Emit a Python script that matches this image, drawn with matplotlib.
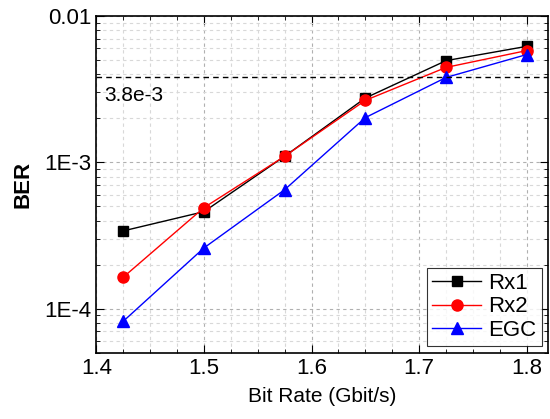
import matplotlib
matplotlib.use('Agg')
from matplotlib import pyplot as plt
from matplotlib.ticker import FixedLocator, LogLocator, NullFormatter, FixedFormatter

plt.rcParams['font.family'] = ['Liberation Sans', 'DejaVu Sans']

bit_rate = [1.425, 1.5, 1.575, 1.65, 1.725, 1.8]
ber_rx1 = [3.4e-4, 4.6e-4, 1.1e-3, 2.75e-3, 4.95e-3, 6.2e-3]
ber_rx2 = [1.64e-4, 4.9e-4, 1.1e-3, 2.65e-3, 4.45e-3, 5.8e-3]
ber_egc = [8.2e-5, 2.6e-4, 6.5e-4, 2.02e-3, 3.8e-3, 5.45e-3]
fec_limit = 3.8e-3

fig = plt.figure(figsize=(5.5, 4.19), dpi=100)
ax = fig.add_axes([0.175, 0.158, 0.822, 0.804])

ax.plot(bit_rate, ber_rx1, '-s', color='black', markersize=7, lw=1, label='Rx1')
ax.plot(bit_rate, ber_rx2, '-o', color='red', markersize=8, lw=1, label='Rx2')
ax.plot(bit_rate, ber_egc, '-^', color='blue', markersize=8, lw=1, label='EGC')
ax.axhline(fec_limit, color='black', ls=(0, (4, 3)), lw=1)
ax.text(1.407, fec_limit * 0.88, '3.8e-3', fontsize=15, va='top', ha='left')

ax.set_yscale('log')
ax.set_xlim(1.4, 1.82)
ax.set_ylim(5e-5, 0.01)

ax.xaxis.set_major_locator(FixedLocator([1.4, 1.5, 1.6, 1.7, 1.8]))
ax.xaxis.set_minor_locator(FixedLocator([1.425, 1.45, 1.475, 1.525, 1.55, 1.575,
                                         1.625, 1.65, 1.675, 1.725, 1.75, 1.775, 1.8]))
ax.yaxis.set_major_locator(FixedLocator([1e-4, 1e-3, 1e-2]))
ax.yaxis.set_major_formatter(FixedFormatter(['1E-4', '1E-3', '0.01']))
ax.yaxis.set_minor_locator(LogLocator(base=10, subs=range(2, 10)))
ax.yaxis.set_minor_formatter(NullFormatter())

ax.grid(True, which='major', color='#b0b0b0', ls=(0, (3, 3)), lw=0.8)
ax.grid(True, which='minor', color='#d8d8d8', ls=(0, (3, 3)), lw=0.8)
ax.tick_params(which='both', direction='in', top=True, right=True, labelsize=16)
ax.tick_params(which='major', length=6)
ax.tick_params(which='minor', length=3)
for s in ax.spines.values():
    s.set_linewidth(1.2)

ax.set_xlabel('Bit Rate (Gbit/s)', fontsize=15, labelpad=6)
ax.set_ylabel('BER', fontsize=16, fontweight='bold', labelpad=8)

leg = ax.legend(loc='lower right', fontsize=16, fancybox=False, edgecolor='black',
                borderpad=0.25, handlelength=2.2, handletextpad=0.3,
                labelspacing=0.1, borderaxespad=0.3)
leg.get_frame().set_linewidth(0.8)

plt.savefig('out.png', dpi=100)
